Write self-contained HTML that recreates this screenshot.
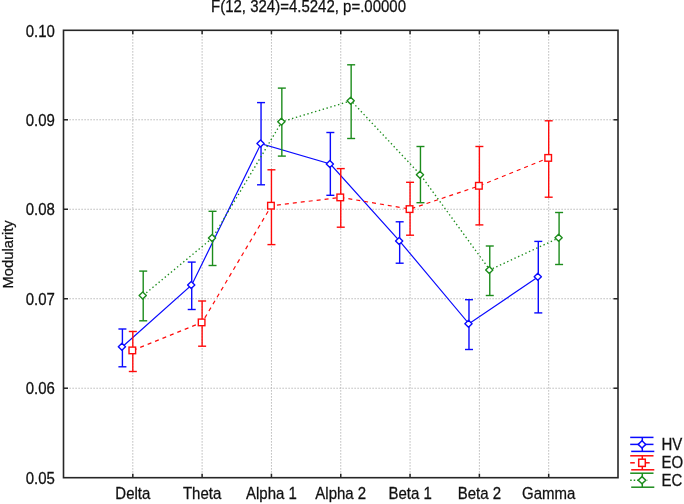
<!DOCTYPE html><html><head><meta charset="utf-8"><style>html,body{margin:0;padding:0;background:#fff;}body{width:684px;height:504px;overflow:hidden;}svg{display:block;will-change:transform;}text{stroke:#111;stroke-width:0.25px;font-family:"Liberation Sans",sans-serif;}</style></head><body>
<svg width="684" height="504" viewBox="0 0 684 504">
<text transform="translate(308.5,12) scale(1,1.06)" font-size="15" text-anchor="middle" fill="#111">F(12, 324)=4.5242, p=.00000</text>
<line x1="63.5" y1="119.78" x2="618.0" y2="119.78" stroke="#a8a8a8" stroke-width="1" stroke-dasharray="1.2 1.8"/>
<line x1="63.5" y1="209.26" x2="618.0" y2="209.26" stroke="#a8a8a8" stroke-width="1" stroke-dasharray="1.2 1.8"/>
<line x1="63.5" y1="298.74" x2="618.0" y2="298.74" stroke="#a8a8a8" stroke-width="1" stroke-dasharray="1.2 1.8"/>
<line x1="63.5" y1="388.22" x2="618.0" y2="388.22" stroke="#a8a8a8" stroke-width="1" stroke-dasharray="1.2 1.8"/>
<line x1="132.81" y1="30.3" x2="132.81" y2="477.7" stroke="#a8a8a8" stroke-width="1" stroke-dasharray="1.2 1.8"/>
<line x1="202.12" y1="30.3" x2="202.12" y2="477.7" stroke="#a8a8a8" stroke-width="1" stroke-dasharray="1.2 1.8"/>
<line x1="271.44" y1="30.3" x2="271.44" y2="477.7" stroke="#a8a8a8" stroke-width="1" stroke-dasharray="1.2 1.8"/>
<line x1="340.75" y1="30.3" x2="340.75" y2="477.7" stroke="#a8a8a8" stroke-width="1" stroke-dasharray="1.2 1.8"/>
<line x1="410.06" y1="30.3" x2="410.06" y2="477.7" stroke="#a8a8a8" stroke-width="1" stroke-dasharray="1.2 1.8"/>
<line x1="479.38" y1="30.3" x2="479.38" y2="477.7" stroke="#a8a8a8" stroke-width="1" stroke-dasharray="1.2 1.8"/>
<line x1="548.69" y1="30.3" x2="548.69" y2="477.7" stroke="#a8a8a8" stroke-width="1" stroke-dasharray="1.2 1.8"/>
<rect x="63.5" y="30.3" width="554.5" height="447.4" fill="none" stroke="#262626" stroke-width="1.6"/>
<line x1="63.5" y1="119.78" x2="68.0" y2="119.78" stroke="#262626" stroke-width="1.5"/>
<line x1="618.0" y1="119.78" x2="613.5" y2="119.78" stroke="#262626" stroke-width="1.5"/>
<line x1="63.5" y1="209.26" x2="68.0" y2="209.26" stroke="#262626" stroke-width="1.5"/>
<line x1="618.0" y1="209.26" x2="613.5" y2="209.26" stroke="#262626" stroke-width="1.5"/>
<line x1="63.5" y1="298.74" x2="68.0" y2="298.74" stroke="#262626" stroke-width="1.5"/>
<line x1="618.0" y1="298.74" x2="613.5" y2="298.74" stroke="#262626" stroke-width="1.5"/>
<line x1="63.5" y1="388.22" x2="68.0" y2="388.22" stroke="#262626" stroke-width="1.5"/>
<line x1="618.0" y1="388.22" x2="613.5" y2="388.22" stroke="#262626" stroke-width="1.5"/>
<line x1="132.81" y1="477.7" x2="132.81" y2="473.7" stroke="#262626" stroke-width="1.5"/>
<line x1="132.81" y1="30.3" x2="132.81" y2="34.3" stroke="#262626" stroke-width="1.5"/>
<line x1="202.12" y1="477.7" x2="202.12" y2="473.7" stroke="#262626" stroke-width="1.5"/>
<line x1="202.12" y1="30.3" x2="202.12" y2="34.3" stroke="#262626" stroke-width="1.5"/>
<line x1="271.44" y1="477.7" x2="271.44" y2="473.7" stroke="#262626" stroke-width="1.5"/>
<line x1="271.44" y1="30.3" x2="271.44" y2="34.3" stroke="#262626" stroke-width="1.5"/>
<line x1="340.75" y1="477.7" x2="340.75" y2="473.7" stroke="#262626" stroke-width="1.5"/>
<line x1="340.75" y1="30.3" x2="340.75" y2="34.3" stroke="#262626" stroke-width="1.5"/>
<line x1="410.06" y1="477.7" x2="410.06" y2="473.7" stroke="#262626" stroke-width="1.5"/>
<line x1="410.06" y1="30.3" x2="410.06" y2="34.3" stroke="#262626" stroke-width="1.5"/>
<line x1="479.38" y1="477.7" x2="479.38" y2="473.7" stroke="#262626" stroke-width="1.5"/>
<line x1="479.38" y1="30.3" x2="479.38" y2="34.3" stroke="#262626" stroke-width="1.5"/>
<line x1="548.69" y1="477.7" x2="548.69" y2="473.7" stroke="#262626" stroke-width="1.5"/>
<line x1="548.69" y1="30.3" x2="548.69" y2="34.3" stroke="#262626" stroke-width="1.5"/>
<text transform="translate(54.8,36.50) scale(1,1.06)" font-size="15" text-anchor="end" fill="#111">0.10</text>
<text transform="translate(54.8,125.58) scale(1,1.06)" font-size="15" text-anchor="end" fill="#111">0.09</text>
<text transform="translate(54.8,215.06) scale(1,1.06)" font-size="15" text-anchor="end" fill="#111">0.08</text>
<text transform="translate(54.8,304.54) scale(1,1.06)" font-size="15" text-anchor="end" fill="#111">0.07</text>
<text transform="translate(54.8,394.02) scale(1,1.06)" font-size="15" text-anchor="end" fill="#111">0.06</text>
<text transform="translate(54.8,483.50) scale(1,1.06)" font-size="15" text-anchor="end" fill="#111">0.05</text>
<text transform="translate(132.81,498.7) scale(1,1.06)" font-size="15" text-anchor="middle" fill="#111">Delta</text>
<text transform="translate(202.12,498.7) scale(1,1.06)" font-size="15" text-anchor="middle" fill="#111">Theta</text>
<text transform="translate(271.44,498.7) scale(1,1.06)" font-size="15" text-anchor="middle" fill="#111">Alpha 1</text>
<text transform="translate(340.75,498.7) scale(1,1.06)" font-size="15" text-anchor="middle" fill="#111">Alpha 2</text>
<text transform="translate(410.06,498.7) scale(1,1.06)" font-size="15" text-anchor="middle" fill="#111">Beta 1</text>
<text transform="translate(479.38,498.7) scale(1,1.06)" font-size="15" text-anchor="middle" fill="#111">Beta 2</text>
<text transform="translate(548.69,498.7) scale(1,1.06)" font-size="15" text-anchor="middle" fill="#111">Gamma</text>
<text transform="translate(13.0,254.4) rotate(-90)" font-size="14.8" text-anchor="middle" fill="#111">Modularity</text>
<path d="M122.41,346.80 L191.72,284.90 L261.04,143.60 L330.35,164.00 L399.66,241.10 L468.98,323.80 L538.29,276.80" fill="none" stroke="#0a0aff" stroke-width="1.2"/>
<line x1="122.41" y1="329" x2="122.41" y2="366.8" stroke="#0a0aff" stroke-width="1.4"/>
<line x1="118.41" y1="329" x2="126.41" y2="329" stroke="#0a0aff" stroke-width="1.4"/>
<line x1="118.41" y1="366.8" x2="126.41" y2="366.8" stroke="#0a0aff" stroke-width="1.4"/>
<path d="M118.31,346.80 L121.91,343.30 L125.51,346.80 L121.91,350.30 Z" fill="#fff" stroke="#0a0aff" stroke-width="1.4" stroke-linejoin="round"/>
<line x1="191.72" y1="262.1" x2="191.72" y2="309.5" stroke="#0a0aff" stroke-width="1.4"/>
<line x1="187.72" y1="262.1" x2="195.72" y2="262.1" stroke="#0a0aff" stroke-width="1.4"/>
<line x1="187.72" y1="309.5" x2="195.72" y2="309.5" stroke="#0a0aff" stroke-width="1.4"/>
<path d="M187.62,284.90 L191.22,281.40 L194.82,284.90 L191.22,288.40 Z" fill="#fff" stroke="#0a0aff" stroke-width="1.4" stroke-linejoin="round"/>
<line x1="261.04" y1="102.6" x2="261.04" y2="184.8" stroke="#0a0aff" stroke-width="1.4"/>
<line x1="257.04" y1="102.6" x2="265.04" y2="102.6" stroke="#0a0aff" stroke-width="1.4"/>
<line x1="257.04" y1="184.8" x2="265.04" y2="184.8" stroke="#0a0aff" stroke-width="1.4"/>
<path d="M256.94,143.60 L260.54,140.10 L264.14,143.60 L260.54,147.10 Z" fill="#fff" stroke="#0a0aff" stroke-width="1.4" stroke-linejoin="round"/>
<line x1="330.35" y1="132.5" x2="330.35" y2="195.3" stroke="#0a0aff" stroke-width="1.4"/>
<line x1="326.35" y1="132.5" x2="334.35" y2="132.5" stroke="#0a0aff" stroke-width="1.4"/>
<line x1="326.35" y1="195.3" x2="334.35" y2="195.3" stroke="#0a0aff" stroke-width="1.4"/>
<path d="M326.25,164.00 L329.85,160.50 L333.45,164.00 L329.85,167.50 Z" fill="#fff" stroke="#0a0aff" stroke-width="1.4" stroke-linejoin="round"/>
<line x1="399.66" y1="221.8" x2="399.66" y2="263.2" stroke="#0a0aff" stroke-width="1.4"/>
<line x1="395.66" y1="221.8" x2="403.66" y2="221.8" stroke="#0a0aff" stroke-width="1.4"/>
<line x1="395.66" y1="263.2" x2="403.66" y2="263.2" stroke="#0a0aff" stroke-width="1.4"/>
<path d="M395.56,241.10 L399.16,237.60 L402.76,241.10 L399.16,244.60 Z" fill="#fff" stroke="#0a0aff" stroke-width="1.4" stroke-linejoin="round"/>
<line x1="468.98" y1="299.7" x2="468.98" y2="349.5" stroke="#0a0aff" stroke-width="1.4"/>
<line x1="464.98" y1="299.7" x2="472.98" y2="299.7" stroke="#0a0aff" stroke-width="1.4"/>
<line x1="464.98" y1="349.5" x2="472.98" y2="349.5" stroke="#0a0aff" stroke-width="1.4"/>
<path d="M464.88,323.80 L468.48,320.30 L472.08,323.80 L468.48,327.30 Z" fill="#fff" stroke="#0a0aff" stroke-width="1.4" stroke-linejoin="round"/>
<line x1="538.29" y1="241.4" x2="538.29" y2="312.9" stroke="#0a0aff" stroke-width="1.4"/>
<line x1="534.29" y1="241.4" x2="542.29" y2="241.4" stroke="#0a0aff" stroke-width="1.4"/>
<line x1="534.29" y1="312.9" x2="542.29" y2="312.9" stroke="#0a0aff" stroke-width="1.4"/>
<path d="M534.19,276.80 L537.79,273.30 L541.39,276.80 L537.79,280.30 Z" fill="#fff" stroke="#0a0aff" stroke-width="1.4" stroke-linejoin="round"/>
<path d="M132.81,350.40 L202.12,322.40 L271.44,205.70 L340.75,197.40 L410.06,209.10 L479.38,185.80 L548.69,157.90" fill="none" stroke="#ff0a0a" stroke-width="1.2" stroke-dasharray="4 4"/>
<line x1="132.81" y1="331.5" x2="132.81" y2="371.5" stroke="#ff0a0a" stroke-width="1.4"/>
<line x1="128.81" y1="331.5" x2="136.81" y2="331.5" stroke="#ff0a0a" stroke-width="1.4"/>
<line x1="128.81" y1="371.5" x2="136.81" y2="371.5" stroke="#ff0a0a" stroke-width="1.4"/>
<rect x="129.01" y="347.10" width="6.6" height="6.6" fill="#fff" stroke="#ff0a0a" stroke-width="1.4"/>
<line x1="202.12" y1="301" x2="202.12" y2="346.2" stroke="#ff0a0a" stroke-width="1.4"/>
<line x1="198.12" y1="301" x2="206.12" y2="301" stroke="#ff0a0a" stroke-width="1.4"/>
<line x1="198.12" y1="346.2" x2="206.12" y2="346.2" stroke="#ff0a0a" stroke-width="1.4"/>
<rect x="198.32" y="319.10" width="6.6" height="6.6" fill="#fff" stroke="#ff0a0a" stroke-width="1.4"/>
<line x1="271.44" y1="169.8" x2="271.44" y2="244.6" stroke="#ff0a0a" stroke-width="1.4"/>
<line x1="267.44" y1="169.8" x2="275.44" y2="169.8" stroke="#ff0a0a" stroke-width="1.4"/>
<line x1="267.44" y1="244.6" x2="275.44" y2="244.6" stroke="#ff0a0a" stroke-width="1.4"/>
<rect x="267.64" y="202.40" width="6.6" height="6.6" fill="#fff" stroke="#ff0a0a" stroke-width="1.4"/>
<line x1="340.75" y1="168.6" x2="340.75" y2="227.2" stroke="#ff0a0a" stroke-width="1.4"/>
<line x1="336.75" y1="168.6" x2="344.75" y2="168.6" stroke="#ff0a0a" stroke-width="1.4"/>
<line x1="336.75" y1="227.2" x2="344.75" y2="227.2" stroke="#ff0a0a" stroke-width="1.4"/>
<rect x="336.95" y="194.10" width="6.6" height="6.6" fill="#fff" stroke="#ff0a0a" stroke-width="1.4"/>
<line x1="410.06" y1="182.3" x2="410.06" y2="235.2" stroke="#ff0a0a" stroke-width="1.4"/>
<line x1="406.06" y1="182.3" x2="414.06" y2="182.3" stroke="#ff0a0a" stroke-width="1.4"/>
<line x1="406.06" y1="235.2" x2="414.06" y2="235.2" stroke="#ff0a0a" stroke-width="1.4"/>
<rect x="406.26" y="205.80" width="6.6" height="6.6" fill="#fff" stroke="#ff0a0a" stroke-width="1.4"/>
<line x1="479.38" y1="146.5" x2="479.38" y2="224.9" stroke="#ff0a0a" stroke-width="1.4"/>
<line x1="475.38" y1="146.5" x2="483.38" y2="146.5" stroke="#ff0a0a" stroke-width="1.4"/>
<line x1="475.38" y1="224.9" x2="483.38" y2="224.9" stroke="#ff0a0a" stroke-width="1.4"/>
<rect x="475.57" y="182.50" width="6.6" height="6.6" fill="#fff" stroke="#ff0a0a" stroke-width="1.4"/>
<line x1="548.69" y1="120.8" x2="548.69" y2="197.2" stroke="#ff0a0a" stroke-width="1.4"/>
<line x1="544.69" y1="120.8" x2="552.69" y2="120.8" stroke="#ff0a0a" stroke-width="1.4"/>
<line x1="544.69" y1="197.2" x2="552.69" y2="197.2" stroke="#ff0a0a" stroke-width="1.4"/>
<rect x="544.89" y="154.60" width="6.6" height="6.6" fill="#fff" stroke="#ff0a0a" stroke-width="1.4"/>
<path d="M143.21,295.40 L212.53,237.90 L281.84,121.70 L351.15,100.80 L420.46,174.80 L489.77,269.90 L559.09,237.80" fill="none" stroke="#1c8c1c" stroke-width="1.35" stroke-dasharray="1.4 2.6"/>
<line x1="143.21" y1="271.1" x2="143.21" y2="320.8" stroke="#1c8c1c" stroke-width="1.4"/>
<line x1="139.21" y1="271.1" x2="147.21" y2="271.1" stroke="#1c8c1c" stroke-width="1.4"/>
<line x1="139.21" y1="320.8" x2="147.21" y2="320.8" stroke="#1c8c1c" stroke-width="1.4"/>
<path d="M139.11,295.40 L142.71,291.90 L146.31,295.40 L142.71,298.90 Z" fill="#fff" stroke="#1c8c1c" stroke-width="1.4" stroke-linejoin="round"/>
<line x1="212.53" y1="211.3" x2="212.53" y2="265.5" stroke="#1c8c1c" stroke-width="1.4"/>
<line x1="208.53" y1="211.3" x2="216.53" y2="211.3" stroke="#1c8c1c" stroke-width="1.4"/>
<line x1="208.53" y1="265.5" x2="216.53" y2="265.5" stroke="#1c8c1c" stroke-width="1.4"/>
<path d="M208.43,237.90 L212.03,234.40 L215.62,237.90 L212.03,241.40 Z" fill="#fff" stroke="#1c8c1c" stroke-width="1.4" stroke-linejoin="round"/>
<line x1="281.84" y1="88.1" x2="281.84" y2="156.1" stroke="#1c8c1c" stroke-width="1.4"/>
<line x1="277.84" y1="88.1" x2="285.84" y2="88.1" stroke="#1c8c1c" stroke-width="1.4"/>
<line x1="277.84" y1="156.1" x2="285.84" y2="156.1" stroke="#1c8c1c" stroke-width="1.4"/>
<path d="M277.74,121.70 L281.34,118.20 L284.94,121.70 L281.34,125.20 Z" fill="#fff" stroke="#1c8c1c" stroke-width="1.4" stroke-linejoin="round"/>
<line x1="351.15" y1="64.8" x2="351.15" y2="138.5" stroke="#1c8c1c" stroke-width="1.4"/>
<line x1="347.15" y1="64.8" x2="355.15" y2="64.8" stroke="#1c8c1c" stroke-width="1.4"/>
<line x1="347.15" y1="138.5" x2="355.15" y2="138.5" stroke="#1c8c1c" stroke-width="1.4"/>
<path d="M347.05,100.80 L350.65,97.30 L354.25,100.80 L350.65,104.30 Z" fill="#fff" stroke="#1c8c1c" stroke-width="1.4" stroke-linejoin="round"/>
<line x1="420.46" y1="146.5" x2="420.46" y2="202.7" stroke="#1c8c1c" stroke-width="1.4"/>
<line x1="416.46" y1="146.5" x2="424.46" y2="146.5" stroke="#1c8c1c" stroke-width="1.4"/>
<line x1="416.46" y1="202.7" x2="424.46" y2="202.7" stroke="#1c8c1c" stroke-width="1.4"/>
<path d="M416.36,174.80 L419.96,171.30 L423.56,174.80 L419.96,178.30 Z" fill="#fff" stroke="#1c8c1c" stroke-width="1.4" stroke-linejoin="round"/>
<line x1="489.77" y1="246" x2="489.77" y2="295.5" stroke="#1c8c1c" stroke-width="1.4"/>
<line x1="485.77" y1="246" x2="493.77" y2="246" stroke="#1c8c1c" stroke-width="1.4"/>
<line x1="485.77" y1="295.5" x2="493.77" y2="295.5" stroke="#1c8c1c" stroke-width="1.4"/>
<path d="M485.67,269.90 L489.27,266.40 L492.88,269.90 L489.27,273.40 Z" fill="#fff" stroke="#1c8c1c" stroke-width="1.4" stroke-linejoin="round"/>
<line x1="559.09" y1="212.5" x2="559.09" y2="264.5" stroke="#1c8c1c" stroke-width="1.4"/>
<line x1="555.09" y1="212.5" x2="563.09" y2="212.5" stroke="#1c8c1c" stroke-width="1.4"/>
<line x1="555.09" y1="264.5" x2="563.09" y2="264.5" stroke="#1c8c1c" stroke-width="1.4"/>
<path d="M554.99,237.80 L558.59,234.30 L562.19,237.80 L558.59,241.30 Z" fill="#fff" stroke="#1c8c1c" stroke-width="1.4" stroke-linejoin="round"/>
<line x1="630.2" y1="437.40" x2="653.5" y2="437.40" stroke="#0a0aff" stroke-width="1.5"/>
<line x1="631.2" y1="451.40" x2="654.3" y2="451.40" stroke="#0a0aff" stroke-width="1.5"/>
<line x1="642.3" y1="437.40" x2="642.3" y2="451.40" stroke="#0a0aff" stroke-width="1.5"/>
<line x1="630.2" y1="444.40" x2="653.5" y2="444.40" stroke="#0a0aff" stroke-width="1.5"/>
<path d="M638.20,444.40 L642.00,440.80 L645.80,444.40 L642.00,448.00 Z" fill="#fff" stroke="#0a0aff" stroke-width="1.5"/>
<text transform="translate(661.5,449.70) scale(1,1.06)" font-size="15" fill="#111">HV</text>
<line x1="630.2" y1="455.80" x2="653.5" y2="455.80" stroke="#ff0a0a" stroke-width="1.5"/>
<line x1="631.2" y1="469.80" x2="654.3" y2="469.80" stroke="#ff0a0a" stroke-width="1.5"/>
<line x1="642.3" y1="455.80" x2="642.3" y2="469.80" stroke="#ff0a0a" stroke-width="1.5"/>
<line x1="630.2" y1="462.80" x2="634.8" y2="462.80" stroke="#ff0a0a" stroke-width="1.5"/>
<line x1="644.5" y1="462.80" x2="649.7" y2="462.80" stroke="#ff0a0a" stroke-width="1.5"/>
<rect x="638.70" y="459.20" width="6.6" height="7.2" fill="#fff" stroke="#ff0a0a" stroke-width="1.5"/>
<text transform="translate(661.5,468.10) scale(1,1.06)" font-size="15" fill="#111">EO</text>
<line x1="630.2" y1="473.20" x2="653.5" y2="473.20" stroke="#1c8c1c" stroke-width="1.5"/>
<line x1="631.2" y1="487.20" x2="654.3" y2="487.20" stroke="#1c8c1c" stroke-width="1.5"/>
<line x1="642.3" y1="473.20" x2="642.3" y2="487.20" stroke="#1c8c1c" stroke-width="1.5"/>
<line x1="630.2" y1="480.20" x2="648" y2="480.20" stroke="#1c8c1c" stroke-width="1.5" stroke-dasharray="1.5 2"/>
<path d="M638.20,480.20 L642.00,476.60 L645.80,480.20 L642.00,483.80 Z" fill="#fff" stroke="#1c8c1c" stroke-width="1.5"/>
<text transform="translate(661.5,485.50) scale(1,1.06)" font-size="15" fill="#111">EC</text>
</svg></body></html>
